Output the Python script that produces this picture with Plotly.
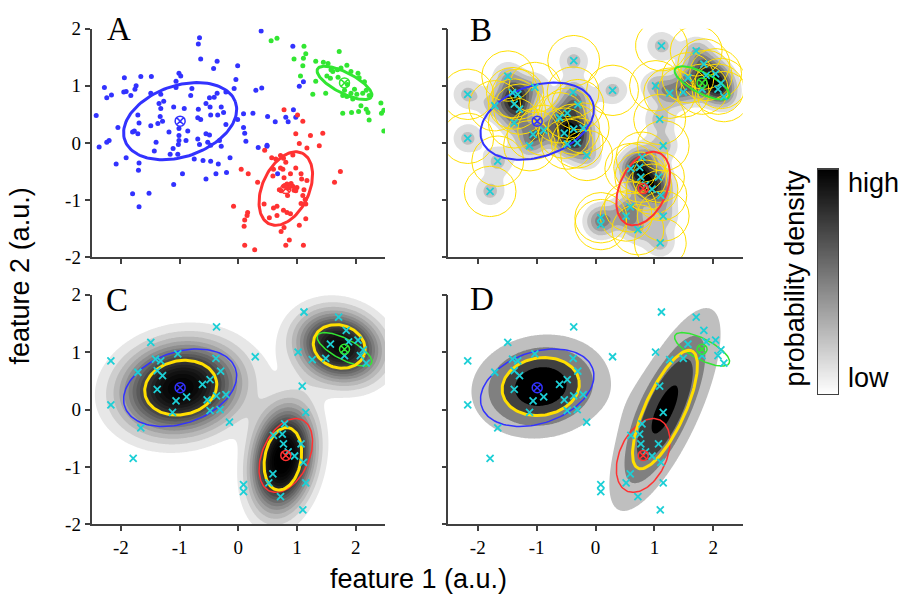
import numpy as np
import plotly.graph_objects as go

# ---------------- samples of the three classes (panel A) ----------------
blue_x = [-0.66,-0.68,-0.64,-0.36,-0.42,-0.01,-1.01,-0.98,-1.94,-1.66,-1.48,-1.06,-1.74,-2.28,-0.79,-0.04,-0.07,-1.95,-1.91,-1.83,
          -2.16,-2.24,-1.76,-1.49,-1.32,-1.06,-0.81,-0.49,-0.41,-0.36,-0.55,-0.29,-0.21,-1.35,-1.27,-1.10,-0.92,-0.68,-0.48,-0.47,
          -0.35,-0.25,-2.42,-1.71,-1.32,-1.33,-1.29,-1.69,-0.69,-0.64,-0.21,-0.01,-2.05,-1.49,-1.37,-1.18,-1.01,-0.86,-0.55,-0.49,
          -1.77,-1.71,-1.80,-1.01,-1.01,-0.89,-0.69,-0.52,-0.32,-1.40,-2.20,-2.24,0.39,0.93,0.30,0.40,1.11,1.04,0.09,0.25,
          0.50,0.63,0.81,0.94,0.85,0.98,0.09,0.11,0.13,0.49,-2.37,-2.08,-1.91,-1.70,-1.69,-1.80,-1.52,-1.69,-1.43,-1.16,
          -1.11,-1.03,-1.02,-1.10,-0.95,-0.75,-0.66,-0.60,-0.55,-0.47,-0.47,-0.38,-0.34,-0.29,-0.20,-0.14,0.34,0.49,0.67]
blue_y = [1.84,1.73,1.47,1.43,1.30,1.35,1.22,1.17,1.14,1.16,1.16,1.08,1.00,0.97,0.95,1.11,0.95,0.89,0.90,0.83,
          0.84,0.79,0.94,0.87,0.85,0.97,0.83,0.79,0.80,0.87,0.69,0.63,0.89,0.69,0.73,0.63,0.60,0.59,0.63,0.49,
          0.49,0.53,0.48,0.49,0.60,0.46,0.38,0.35,0.44,0.41,0.32,0.41,0.27,0.30,0.34,0.19,0.25,0.21,0.16,0.14,
          0.21,0.16,0.19,0.13,0.04,0.04,0.07,0.01,0.04,0.01,0.04,0.01,1.96,1.69,0.92,0.96,1.07,0.99,0.51,0.52,
          0.46,0.37,0.45,0.58,0.37,0.45,0.27,0.17,0.03,-0.04,-0.07,-0.37,-0.26,-0.48,-0.35,-0.89,-0.88,-1.12,-0.14,-0.20,
          -0.10,-0.20,-0.03,-0.73,-0.54,-0.28,-0.03,-0.31,-0.63,-0.32,-0.04,-0.54,-0.37,-0.06,-0.52,-0.26,-0.08,-0.06,-0.54]

red_x = [0.78,1.01,1.10,0.98,1.23,1.44,1.04,1.17,1.38,0.45,0.57,0.64,0.72,0.77,0.81,0.93,0.05,0.17,0.60,0.72,
         0.76,0.78,0.59,0.89,0.98,1.07,1.08,1.17,0.33,1.64,1.74,0.83,0.90,0.78,0.85,0.93,0.95,0.70,0.73,0.84,
         1.00,0.98,1.12,1.10,1.07,1.14,1.15,-0.08,0.44,0.60,0.66,0.77,0.83,0.89,0.16,0.15,0.11,0.10,0.53,0.66,
         1.15,0.78,0.73,1.04,0.87,0.81,1.11,0.11,0.28]
red_y = [0.58,0.49,0.38,0.16,0.13,0.17,-0.01,-0.09,-0.05,-0.13,-0.26,-0.28,-0.22,-0.27,-0.34,-0.21,-0.46,-0.54,-0.46,-0.44,
         -0.46,-0.61,-0.58,-0.54,-0.44,-0.54,-0.63,-0.66,-0.69,-0.69,-0.50,-0.72,-0.71,-0.76,-0.79,-0.76,-0.83,-0.82,-0.84,-0.92,
         -0.78,-0.84,-0.82,-0.92,-1.06,-0.99,-1.07,-1.11,-1.07,-1.14,-1.11,-1.18,-1.22,-1.24,-1.22,-1.27,-1.35,-1.46,-1.31,-1.27,
         -1.33,-1.48,-1.55,-1.44,-1.70,-1.79,-1.79,-1.79,-1.87]

green_x = [0.56,0.66,1.12,1.15,0.95,1.11,1.10,1.06,1.32,1.32,1.27,1.49,1.72,1.45,1.53,1.58,1.61,1.51,1.57,1.69,
           1.75,1.85,1.92,2.04,2.06,2.15,1.70,1.86,1.98,1.92,2.02,2.12,2.18,2.23,1.81,1.85,1.95,1.78,1.78,1.93,
           2.05,2.09,2.18,2.21,2.23,2.43,2.48,2.44,2.48]
green_y = [1.79,1.83,1.69,1.56,1.47,1.48,1.35,1.17,1.43,1.08,0.85,0.87,1.60,1.41,1.39,1.28,1.25,1.17,1.13,1.28,
           1.31,1.36,1.25,1.22,1.14,1.07,1.15,1.02,0.94,0.87,0.85,0.87,0.92,0.83,0.92,0.81,0.77,0.83,0.52,0.53,
           0.55,0.65,0.59,0.53,0.40,0.70,0.57,0.52,0.21]

# true class distributions: centre, semi-axes, orientation (deg)
class_colors = ["#3232ff", "#ff3232", "#32e632"]
class_cx = [-0.99, 0.81, 1.81]
class_cy = [0.38, -0.80, 1.05]
class_a = [1.00, 0.68, 0.52]
class_b = [0.62, 0.40, 0.18]
class_ang = [20.0, 66.5, -28.0]

# ---------------- observed sample (panels B-D) ----------------
obs_x = [-0.37,-1.49,-2.17,-1.03,-1.41,-1.32,-0.38,-1.71,-1.38,-1.29,-0.30,-0.48,-0.61,-1.38,-0.88,-1.06,-0.37,-0.21,-0.53,-2.17,
         -1.12,-0.48,-0.31,-0.15,-1.66,-1.79,0.09,0.09,1.12,1.71,1.84,2.04,1.88,1.57,2.13,1.02,1.81,2.08,2.18,1.49,
         1.26,0.29,1.09,1.15,0.79,0.60,0.75,0.77,1.07,0.85,0.96,1.11,0.59,0.52,1.15,0.72,1.10]
obs_y = [1.44,1.17,0.85,0.97,0.88,0.85,0.89,0.65,0.68,0.59,0.67,0.52,0.44,0.35,0.22,0.15,0.24,0.26,0.17,0.08,
         -0.05,-0.02,0.00,-0.22,-0.32,-0.85,-1.31,-1.43,1.70,1.61,1.38,1.21,1.18,1.14,1.04,1.00,0.94,0.94,0.81,0.89,
         0.87,0.92,0.41,-0.05,-0.25,-0.45,-0.43,-0.60,-0.60,-0.74,-0.81,-0.92,-1.12,-1.28,-1.28,-1.52,-1.75]

kde_sigma = 0.18      # kernel width of the density estimate (panel B)
kernel_radius = 0.44  # radius of the drawn kernel footprints

# ---------------- fitted mixtures ----------------
# three-component fit (panel C)
gmm3_w = [0.46, 0.30, 0.24]
gmm3_cx = [-0.98, 0.76, 1.72]
gmm3_cy = [0.38, -0.86, 1.10]
gmm3_sa = [0.62, 0.55, 0.45]
gmm3_sb = [0.47, 0.31, 0.37]
gmm3_ang = [12.0, 80.0, -20.0]

# two-component fit (panel D)
gmm2_w = [0.50, 0.50]
gmm2_cx = [-0.93, 1.18]
gmm2_cy = [0.40, 0.00]
gmm2_sa = [0.66, 1.12]
gmm2_sb = [0.50, 0.34]
gmm2_ang = [10.0, 66.0]

XT = [-2, -1, 0, 1, 2]
XT_TEXT = ["-2", "-1", "0", "1", "2"]
YT = [-2, -1, 0, 1, 2]
YT_TEXT = ["-2", "-1", "0", "1", "2"]

W, H = 907, 607
CYAN = "#1ccfd6"
YELLOW = "#ffdf00"
AX = "#404040"


def ellipse(cx, cy, a, b, ang, n=120):
    t = np.linspace(0, 2 * np.pi, n)
    th = np.deg2rad(ang)
    x = cx + a * np.cos(t) * np.cos(th) - b * np.sin(t) * np.sin(th)
    y = cy + a * np.cos(t) * np.sin(th) + b * np.sin(t) * np.cos(th)
    return x, y


def gauss2d(X, Y, cx, cy, sa, sb, ang):
    th = np.deg2rad(ang)
    dx_, dy_ = X - cx, Y - cy
    u = dx_ * np.cos(th) + dy_ * np.sin(th)
    v = -dx_ * np.sin(th) + dy_ * np.cos(th)
    return np.exp(-0.5 * ((u / sa) ** 2 + (v / sb) ** 2)) / (2 * np.pi * sa * sb)


def grey_scale(gamma):
    ts = np.linspace(0, 1, 21)
    return [[float(t), "rgb({0},{0},{0})".format(int(round(255 * (1 - t) ** gamma)))] for t in ts]


gx = np.linspace(-2.5, 2.5, 251)
gy = np.linspace(-2.0, 2.0, 201)
GX, GY = np.meshgrid(gx, gy)

fig = go.Figure()


def dx(a, b):
    return [a / W, b / W]


def dy(top, bottom):
    return [1 - bottom / H, 1 - top / H]


panels = {
    1: (dx(91.5, 385), dy(19.3, 256)),
    2: (dx(448.3, 742.7), dy(19.3, 256)),
    3: (dx(91.5, 385), dy(295, 532.7)),
    4: (dx(448.3, 742.7), dy(295, 532.7)),
}

axis_common = dict(showline=True, linecolor=AX, linewidth=1.5, ticks="outside", ticklen=5,
                   tickwidth=1.5, tickcolor=AX, showgrid=False, zeroline=False,
                   tickfont=dict(family="Liberation Serif", size=19, color="black"))

for k, (xd, yd) in panels.items():
    sfx = "" if k == 1 else str(k)
    fig.layout["xaxis" + sfx] = dict(domain=xd, anchor="y" + sfx, range=[-2.5, 2.5],
                                     tickvals=XT, ticktext=XT_TEXT,
                                     showticklabels=k in (3, 4), **axis_common)
    fig.layout["yaxis" + sfx] = dict(domain=yd, anchor="x" + sfx, range=[-2, 2],
                                     tickvals=YT, ticktext=YT_TEXT,
                                     showticklabels=k in (1, 3), **axis_common)


def ax(k):
    return ("x", "y") if k == 1 else ("x%d" % k, "y%d" % k)


def add_class_ellipses(k, width):
    xa, ya = ax(k)
    for i in range(3):
        ex, ey = ellipse(class_cx[i], class_cy[i], class_a[i], class_b[i], class_ang[i])
        fig.add_trace(go.Scatter(x=ex, y=ey, mode="lines", line=dict(color=class_colors[i], width=width),
                                 xaxis=xa, yaxis=ya, hoverinfo="skip", showlegend=False))


def add_centres(k):
    xa, ya = ax(k)
    for i in range(3):
        fig.add_trace(go.Scatter(x=[class_cx[i]], y=[class_cy[i]], mode="markers",
                                 marker=dict(symbol="circle-x-open", size=10, color=class_colors[i],
                                             line=dict(width=1.5, color=class_colors[i])),
                                 xaxis=xa, yaxis=ya, hoverinfo="skip", showlegend=False))


def add_obs(k):
    xa, ya = ax(k)
    fig.add_trace(go.Scatter(x=obs_x, y=obs_y, mode="markers",
                             marker=dict(symbol="x-thin", size=7, line=dict(width=1.8, color=CYAN)),
                             xaxis=xa, yaxis=ya, hoverinfo="skip", showlegend=False))


def add_density(k, Z, nlev, gamma=1.0):
    # filled iso-density bands, white (lowest) to black (highest)
    xa, ya = ax(k)
    step = Z.max() / (nlev + 1)
    fig.add_trace(go.Contour(x=gx, y=gy, z=Z, xaxis=xa, yaxis=ya,
                             contours=dict(start=step, end=step * nlev, size=step, coloring="fill",
                                           showlines=False),
                             line=dict(width=0), colorscale=grey_scale(gamma),
                             showscale=False, hoverinfo="skip"))


# ---- panel A: labelled samples ----
for xs, ys, c in [(blue_x, blue_y, class_colors[0]), (red_x, red_y, class_colors[1]),
                  (green_x, green_y, class_colors[2])]:
    fig.add_trace(go.Scatter(x=xs, y=ys, mode="markers", marker=dict(size=5, color=c),
                             xaxis="x", yaxis="y", hoverinfo="skip", showlegend=False))
add_class_ellipses(1, 3)
add_centres(1)

# ---- panel B: kernel density estimate ----
Zb = np.zeros_like(GX)
for px, py in zip(obs_x, obs_y):
    Zb += np.exp(-((GX - px) ** 2 + (GY - py) ** 2) / (2 * kde_sigma ** 2))
add_density(2, Zb, 8)
cxs, cys = [], []
for px, py in zip(obs_x, obs_y):
    ex, ey = ellipse(px, py, kernel_radius, kernel_radius, 0, 80)
    cxs += list(ex) + [None]
    cys += list(ey) + [None]
fig.add_trace(go.Scatter(x=cxs, y=cys, mode="lines", line=dict(color=YELLOW, width=1),
                         xaxis="x2", yaxis="y2", hoverinfo="skip", showlegend=False))
add_class_ellipses(2, 2)
add_obs(2)
add_centres(2)

# ---- panel C: three-component mixture ----
Zc = sum(gmm3_w[i] * gauss2d(GX, GY, gmm3_cx[i], gmm3_cy[i], gmm3_sa[i], gmm3_sb[i], gmm3_ang[i])
         for i in range(3))
add_density(3, Zc, 18, 1.8)
add_class_ellipses(3, 1.5)
for i in range(3):
    ex, ey = ellipse(gmm3_cx[i], gmm3_cy[i], gmm3_sa[i], gmm3_sb[i], gmm3_ang[i])
    fig.add_trace(go.Scatter(x=ex, y=ey, mode="lines", line=dict(color=YELLOW, width=3),
                             xaxis="x3", yaxis="y3", hoverinfo="skip", showlegend=False))
add_obs(3)
add_centres(3)

# ---- panel D: two-component mixture ----
Zd = sum(gmm2_w[i] * gauss2d(GX, GY, gmm2_cx[i], gmm2_cy[i], gmm2_sa[i], gmm2_sb[i], gmm2_ang[i])
         for i in range(2))
add_density(4, Zd, 4)
add_class_ellipses(4, 1.5)
for i in range(2):
    ex, ey = ellipse(gmm2_cx[i], gmm2_cy[i], gmm2_sa[i], gmm2_sb[i], gmm2_ang[i])
    fig.add_trace(go.Scatter(x=ex, y=ey, mode="lines", line=dict(color=YELLOW, width=3),
                             xaxis="x4", yaxis="y4", hoverinfo="skip", showlegend=False))
add_obs(4)
add_centres(4)

# ---- colour bar ----
grad = np.linspace(0, 1, 200)
fig.add_trace(go.Heatmap(z=[[v] for v in grad], x=[0], y=grad, xaxis="x5", yaxis="y5",
                         colorscale=[[0, "white"], [1, "black"]], showscale=False, hoverinfo="skip"))
fig.layout["xaxis5"] = dict(domain=dx(818, 838), anchor="y5", showline=True, mirror=True, linecolor=AX,
                            linewidth=1, showticklabels=False, ticks="", showgrid=False, zeroline=False,
                            range=[-0.5, 0.5])
fig.layout["yaxis5"] = dict(domain=dy(165, 398), anchor="x5", showline=True, mirror=True, linecolor=AX,
                            linewidth=1, showticklabels=False, ticks="", showgrid=False, zeroline=False,
                            range=[0, 1])

sans = "Liberation Sans"
serif = "Liberation Serif"
ann = [
    dict(text="A", x=118.5 / W, y=1 - 20 / H, font=dict(family=serif, size=33)),
    dict(text="B", x=481 / W, y=1 - 21 / H, font=dict(family=serif, size=33)),
    dict(text="C", x=117 / W, y=1 - 300 / H, font=dict(family=serif, size=33)),
    dict(text="D", x=482 / W, y=1 - 299 / H, font=dict(family=serif, size=33)),
    dict(text="feature 1 (a.u.)", x=418 / W, y=1 - 589 / H, font=dict(family=sans, size=27)),
    dict(text="feature 2 (a.u.)", x=20 / W, y=1 - 276 / H, textangle=-90, font=dict(family=sans, size=27)),
    dict(text="probability density", x=795 / W, y=1 - 278 / H, textangle=-90, font=dict(family=sans, size=27)),
    dict(text="high", x=846 / W, y=1 - 179 / H, xanchor="left", font=dict(family=sans, size=27)),
    dict(text="low", x=846 / W, y=1 - 381 / H, xanchor="left", font=dict(family=sans, size=27)),
]
for a in ann:
    a.setdefault("xanchor", "center")
    a["yanchor"] = "middle"
    a["xref"] = "paper"
    a["yref"] = "paper"
    a["showarrow"] = False
    a["font"]["color"] = "black"
fig.update_layout(annotations=ann, width=W, height=H, margin=dict(l=0, r=0, t=0, b=0),
                  plot_bgcolor="white", paper_bgcolor="white")

fig.write_html("out.html")
